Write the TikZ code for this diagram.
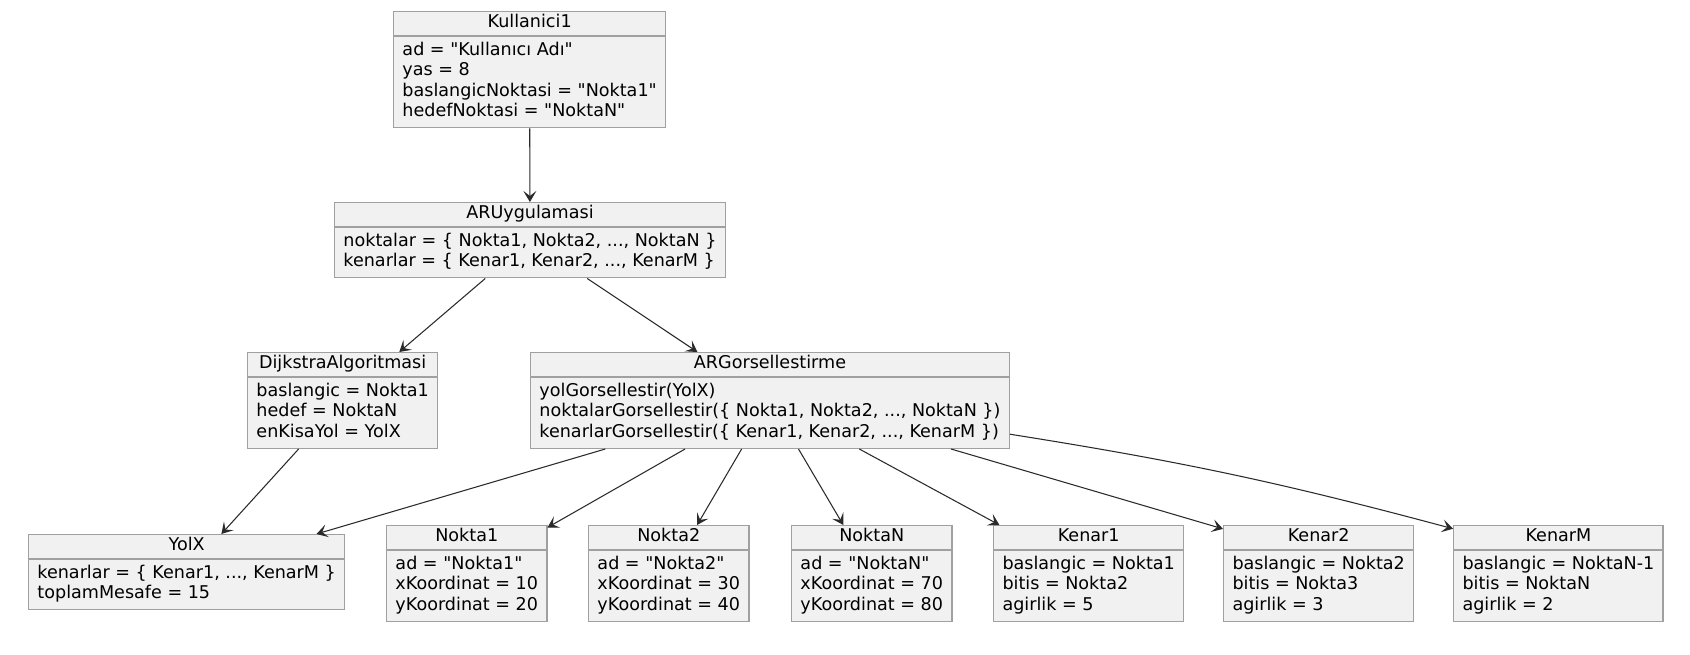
\documentclass[tikz,border=0pt]{standalone}
\usepackage{fontspec}
\setmainfont{DejaVu Sans}[Ligatures=TeXOff]
\usetikzlibrary{shapes.multipart,arrows.meta}
\definecolor{umlzemin}{HTML}{F1F1F1}
\definecolor{umlkenar}{HTML}{A0A0A0}
\definecolor{umlok}{HTML}{2A2A2A}
% baslik ve govde (sabit yukseklikli satirlar)
\newcommand{\uml}[2]{\smash{#1}\rule[-2.2pt]{0pt}{8.2pt}\nodepart{second}\strut#2\strut}
\tikzset{
  sinif/.style={rectangle split, rectangle split parts=2,
    rectangle split part align={center,left}, align=left,
    draw=umlkenar, fill=umlzemin, line width=0.8pt, anchor=north west,
    inner xsep=5pt, inner ysep=2.4pt, font=\fontsize{10}{11.67}\selectfont},
  ok/.style={draw=umlok, line width=0.6pt, -{Stealth[length=2.2mm,width=2.6mm,inset=1mm]}}
}
\begin{document}
\begin{tikzpicture}[x=0.02cm,y=0.02cm]
\useasboundingbox[fill=white] (0,0) rectangle (1690,655);
\node[sinif, minimum width=5.36cm] (kullanici) at (393,644)
  {\uml{Kullanici1}{ad = "Kullanıcı Adı"\\yas = 8\\baslangicNoktasi = "Nokta1"\\hedefNoktasi = "NoktaN"}};
\node[sinif, minimum width=7.74cm] (aruygulama) at (334,453)
  {\uml{ARUygulamasi}{noktalar = \{ Nokta1, Nokta2, ..., NoktaN \}\\kenarlar = \{ Kenar1, Kenar2, ..., KenarM \}}};
\node[sinif, minimum width=3.72cm] (dijkstra) at (247,303)
  {\uml{DijkstraAlgoritmasi}{baslangic = Nokta1\\hedef = NoktaN\\enKisaYol = YolX}};
\node[sinif, minimum width=9.54cm] (argorsel) at (530,303)
  {\uml{ARGorsellestirme}{yolGorsellestir(YolX)\\noktalarGorsellestir(\{ Nokta1, Nokta2, ..., NoktaN \})\\kenarlarGorsellestir(\{ Kenar1, Kenar2, ..., KenarM \})}};
\node[sinif, minimum width=6.28cm] (yolx) at (28,121)
  {\uml{YolX}{kenarlar = \{ Kenar1, ..., KenarM \}\\toplamMesafe = 15}};
\node[sinif, minimum width=3.16cm] (nokta1) at (386,130)
  {\uml{Nokta1}{ad = "Nokta1"\\xKoordinat = 10\\yKoordinat = 20}};
\node[sinif, minimum width=3.18cm] (nokta2) at (588,130)
  {\uml{Nokta2}{ad = "Nokta2"\\xKoordinat = 30\\yKoordinat = 40}};
\node[sinif, minimum width=3.16cm] (noktaN) at (791,130)
  {\uml{NoktaN}{ad = "NoktaN"\\xKoordinat = 70\\yKoordinat = 80}};
\node[sinif, minimum width=3.72cm] (kenar1) at (993,130)
  {\uml{Kenar1}{baslangic = Nokta1\\bitis = Nokta2\\agirlik = 5}};
\node[sinif, minimum width=3.72cm] (kenar2) at (1223,130)
  {\uml{Kenar2}{baslangic = Nokta2\\bitis = Nokta3\\agirlik = 3}};
\node[sinif, minimum width=4.06cm] (kenarM) at (1453,130)
  {\uml{KenarM}{baslangic = NoktaN-1\\bitis = NoktaN\\agirlik = 2}};
% baglantilar
\draw[ok] (kullanici) -- (aruygulama);
\draw[ok] (aruygulama) -- (dijkstra);
\draw[ok] (aruygulama) -- (argorsel);
\draw[ok] (dijkstra) -- (yolx);
\foreach \hedef in {yolx,nokta1,nokta2,noktaN,kenar1}
  \draw[ok] (argorsel) -- (\hedef);
\draw[ok] (argorsel.-15) -- (kenar2.155);
\draw[ok] (argorsel.-8) to[out=-9,in=165] (kenarM.157);
\end{tikzpicture}
\end{document}
